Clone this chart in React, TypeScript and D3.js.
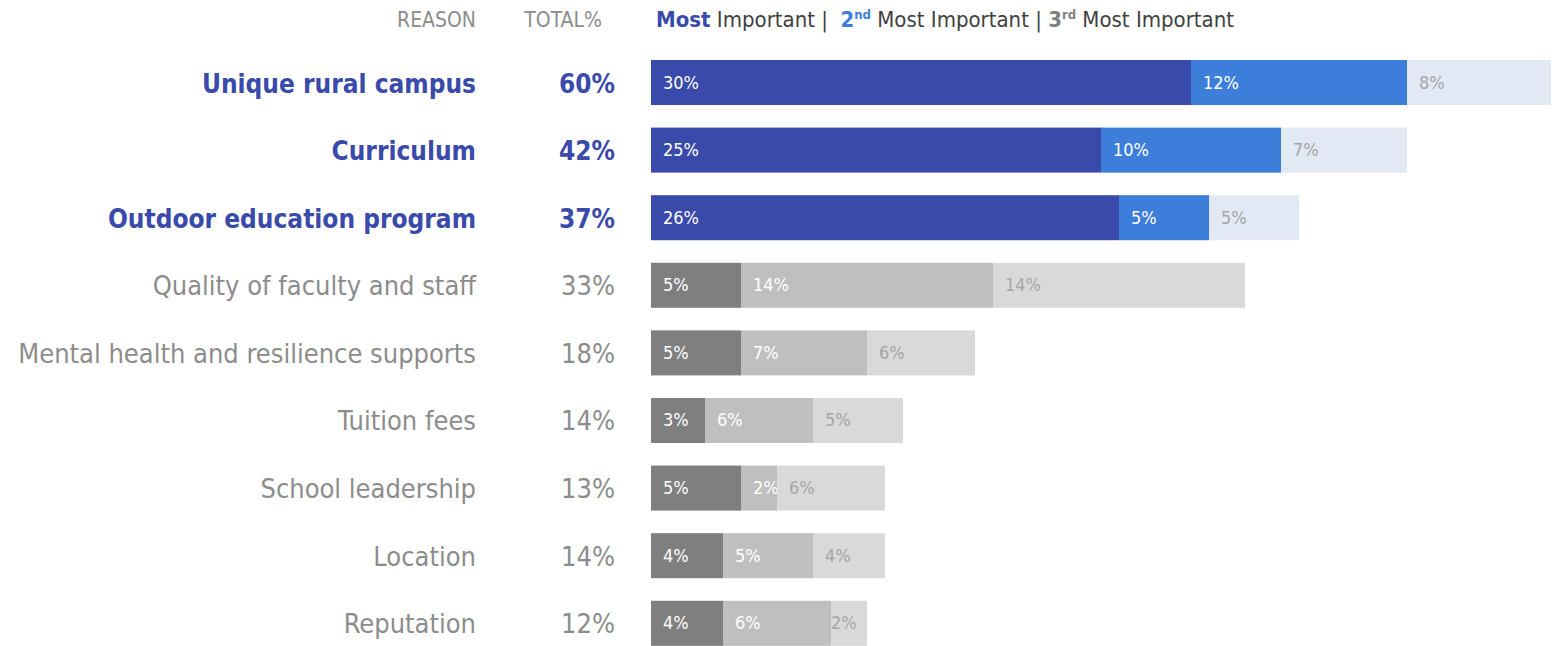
import React from "react";
import * as d3 from "d3";

const reasons = [
  "Unique rural campus",
  "Curriculum",
  "Outdoor education program",
  "Quality of faculty and staff",
  "Mental health and resilience supports",
  "Tuition fees",
  "School leadership",
  "Location",
  "Reputation",
];
const totals = [60, 42, 37, 33, 18, 14, 13, 14, 12];
const most = [30, 25, 26, 5, 5, 3, 5, 4, 4];
const second = [12, 10, 5, 14, 7, 6, 2, 5, 6];
const third = [8, 7, 5, 14, 6, 5, 6, 4, 2];
const highlighted = [true, true, true, false, false, false, false, false, false];

const blueColors = ["#3A4AAB", "#3C7EDA", "#E3E8F5"];
const greyColors = ["#7F7F7F", "#BFBFBF", "#D9D9D9"];
const labelColors = ["#FFFFFF", "#FFFFFF", "#A6A6A6"];

const FONT = "'DejaVu Sans Condensed', Lato, sans-serif";

export default function App() {
  const width = 1553;
  const height = 646;
  const x0 = 651;
  const x = d3.scaleLinear().domain([0, 50]).range([0, 900]);
  const y = d3
    .scaleBand<number>()
    .domain(d3.range(reasons.length))
    .range([60, 645.8])
    .paddingInner(0.334)
    .paddingOuter(0);
  const bh = y.bandwidth();

  return (
    <svg
      width={width}
      height={height}
      style={{ position: "absolute", left: 0, top: 0, fontFamily: FONT }}
    >
      <rect width={width} height={height} fill="#fff" />
      <text x={476} y={27} textAnchor="end" fontSize={21} fill="#8C8C8C">
        REASON
      </text>
      <text x={602} y={27} textAnchor="end" fontSize={21} fill="#8C8C8C">
        TOTAL%
      </text>
      <text x={656} y={27} fontSize={22} fill="#404040" style={{ whiteSpace: "pre" }}>
        <tspan fontWeight="bold" fill={blueColors[0]}>Most</tspan>
        <tspan> Important |  </tspan>
        <tspan fontWeight="bold" fill={blueColors[1]}>2</tspan>
        <tspan fontWeight="bold" fill={blueColors[1]} fontSize={13} dy={-8}>nd</tspan>
        <tspan dy={8}> Most Important | </tspan>
        <tspan fontWeight="bold" fill="#7F7F7F">3</tspan>
        <tspan fontWeight="bold" fill="#7F7F7F" fontSize={13} dy={-8}>rd</tspan>
        <tspan dy={8}> Most Important</tspan>
      </text>
      {reasons.map((r, i) => {
        const top = y(i) as number;
        const cy = top + bh / 2;
        const hl = highlighted[i];
        const colors = hl ? blueColors : greyColors;
        const vals = [most[i], second[i], third[i]];
        const starts = [0, most[i], most[i] + second[i]];
        const totalEnd = x0 + x(most[i] + second[i] + third[i]);
        return (
          <g key={r}>
            <text
              x={476}
              y={cy + 10}
              textAnchor="end"
              fontSize={hl ? 26 : 27}
              fontWeight={hl ? "bold" : "normal"}
              fill={hl ? blueColors[0] : "#8C8C8C"}
            >
              {r}
            </text>
            <text
              x={615}
              y={cy + 10}
              textAnchor="end"
              fontSize={hl ? 26 : 27}
              fontWeight={hl ? "bold" : "normal"}
              fill={hl ? blueColors[0] : "#8C8C8C"}
            >
              {totals[i]}%
            </text>
            {vals.map((v, k) => {
              const sx = x0 + x(starts[k]);
              const w = x(v);
              const tw = 28;
              let lx = sx + 12;
              if (k === 2 && lx + tw > totalEnd) lx = totalEnd - tw - 8;
              return (
                <g key={k}>
                  <rect x={sx} y={top} width={w} height={bh} fill={colors[k]} />
                  <text x={lx} y={cy + 6} fontSize={18} fill={labelColors[k]}>
                    {v}%
                  </text>
                </g>
              );
            })}
          </g>
        );
      })}
    </svg>
  );
}
